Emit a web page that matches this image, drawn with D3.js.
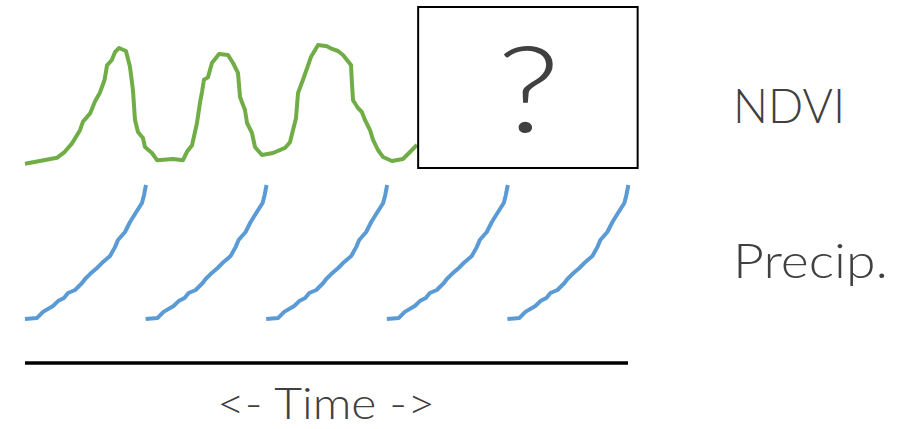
<!DOCTYPE html>
<html>
<head>
<meta charset="utf-8">
<script src="https://d3js.org/d3.v7.min.js"></script>
<style>
  body { margin: 0; background: #fff; }
  text { font-family: Lato, "Open Sans", sans-serif; font-weight: 300; fill: #404040; }
</style>
</head>
<body>
<div id="chart"></div>
<script>
// time in seasons, value normalised 0..1
const ndviTime = [0, 0.265, 0.33, 0.39, 0.456, 0.48, 0.54, 0.58, 0.62, 0.66, 0.68, 0.72, 0.746, 0.78,
  0.837, 0.87, 0.895, 0.912, 0.937, 0.978, 0.995, 1.053, 1.095, 1.227, 1.31, 1.343, 1.385, 1.426,
  1.451, 1.468, 1.484, 1.517, 1.55, 1.609, 1.683, 1.725, 1.766, 1.783, 1.824, 1.841, 1.882, 1.907,
  1.965, 2.056, 2.156, 2.197, 2.222, 2.247, 2.264, 2.305, 2.347, 2.371, 2.43, 2.504, 2.546, 2.595,
  2.637, 2.703, 2.711, 2.72, 2.761, 2.794, 2.819, 2.861, 2.886, 2.927, 2.968, 3.043, 3.134, 3.192, 3.25];
const ndviValue = [0.01, 0.06, 0.11, 0.18, 0.29, 0.36, 0.43, 0.53, 0.60, 0.71, 0.83, 0.875, 0.94, 0.975,
  0.95, 0.82, 0.625, 0.375, 0.275, 0.225, 0.15, 0.10, 0.04, 0.05, 0.04, 0.11, 0.165, 0.35,
  0.52, 0.61, 0.71, 0.73, 0.85, 0.925, 0.917, 0.85, 0.767, 0.567, 0.458, 0.35, 0.267, 0.15,
  0.083, 0.10, 0.142, 0.19, 0.29, 0.39, 0.60, 0.71, 0.83, 0.90, 1.0, 0.99, 0.967, 0.95,
  0.917, 0.833, 0.683, 0.54, 0.475, 0.44, 0.375, 0.29, 0.21, 0.125, 0.067, 0.033, 0.05, 0.108, 0.167];

// one season of rainfall, repeated each season
const precipTime = [0, 0.10, 0.149, 0.232, 0.274, 0.323, 0.357, 0.415, 0.473, 0.498, 0.539, 0.597,
  0.647, 0.705, 0.746, 0.771, 0.829, 0.871, 0.912, 0.97, 0.987, 1.003];
const precipValue = [0.007, 0.015, 0.06, 0.104, 0.14, 0.163, 0.2, 0.222, 0.274, 0.304, 0.34, 0.385,
  0.43, 0.474, 0.54, 0.593, 0.652, 0.726, 0.785, 0.867, 0.926, 1.0];
const seasons = [0, 1, 2, 3, 4];

const rowLabels = ["NDVI", "Precip."];
const axisLabel = "<- Time ->";
const unknownMark = "?";

const width = 912;
const height = 429;

const svg = d3.select("#chart").append("svg")
  .attr("width", width)
  .attr("height", height);

const x = d3.scaleLinear().domain([0, 5]).range([25, 628]);
const yNdvi = d3.scaleLinear().domain([0, 1]).range([165, 45]);
const yPrecip = d3.scaleLinear().domain([0, 1]).range([320, 185]);

const ndviLine = d3.line()
  .x(d => x(d[0]))
  .y(d => yNdvi(d[1]));

svg.append("path")
  .datum(d3.zip(ndviTime, ndviValue))
  .attr("fill", "none")
  .attr("stroke", "#70AD47")
  .attr("stroke-width", 4)
  .attr("stroke-linejoin", "round")
  .attr("d", ndviLine);

const precipLine = d3.line()
  .x(d => x(d[0]))
  .y(d => yPrecip(d[1]));

svg.selectAll(".precip")
  .data(seasons)
  .join("path")
  .attr("class", "precip")
  .attr("fill", "none")
  .attr("stroke", "#5B9BD5")
  .attr("stroke-width", 4)
  .attr("stroke-linejoin", "round")
  .attr("d", s => precipLine(precipTime.map((t, i) => [s + t, precipValue[i]])));

// the unknown future NDVI
const boxX0 = x(3.26), boxX1 = x(5.08);
svg.append("rect")
  .attr("x", boxX0)
  .attr("y", 7)
  .attr("width", boxX1 - boxX0)
  .attr("height", 161)
  .attr("fill", "#fff")
  .attr("stroke", "#000")
  .attr("stroke-width", 2);

svg.append("text")
  .attr("x", (boxX0 + boxX1) / 2 - 31)
  .attr("y", 132)
  .attr("textLength", 63)
  .attr("lengthAdjust", "spacingAndGlyphs")
  .style("font-size", "120px")
  .text(unknownMark);

// time axis
svg.append("line")
  .attr("x1", x(0))
  .attr("x2", x(5))
  .attr("y1", 363)
  .attr("y2", 363)
  .attr("stroke", "#000")
  .attr("stroke-width", 3.5);

svg.append("text")
  .attr("x", 217)
  .attr("y", 419)
  .attr("textLength", 218)
  .attr("lengthAdjust", "spacingAndGlyphs")
  .style("font-size", "44px")
  .text(axisLabel);

svg.selectAll(".row-label")
  .data(rowLabels)
  .join("text")
  .attr("class", "row-label")
  .attr("x", 733)
  .attr("y", (d, i) => [123, 278][i])
  .attr("textLength", (d, i) => [112, 155][i])
  .attr("lengthAdjust", "spacingAndGlyphs")
  .style("font-size", "48px")
  .text(d => d);
</script>
</body>
</html>
